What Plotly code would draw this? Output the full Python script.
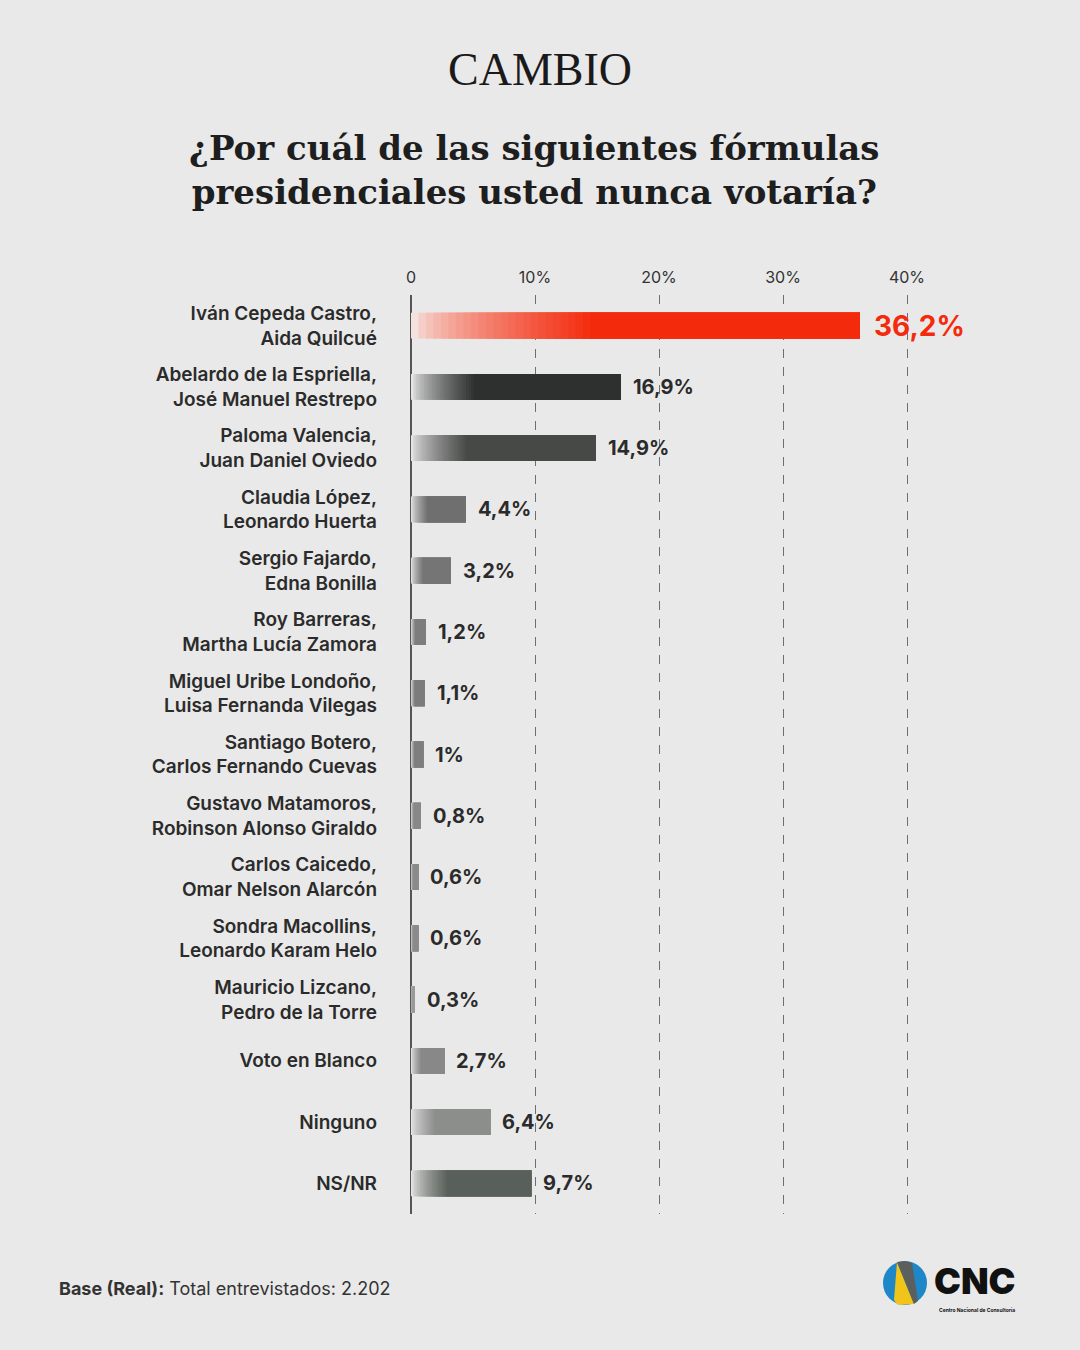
import plotly.graph_objects as go

# ---------------- data ----------------
categories = [
    "Iván Cepeda Castro,<br>Aida Quilcué",
    "Abelardo de la Espriella,<br>José Manuel Restrepo",
    "Paloma Valencia,<br>Juan Daniel Oviedo",
    "Claudia López,<br>Leonardo Huerta",
    "Sergio Fajardo,<br>Edna Bonilla",
    "Roy Barreras,<br>Martha Lucía Zamora",
    "Miguel Uribe Londoño,<br>Luisa Fernanda Vilegas",
    "Santiago Botero,<br>Carlos Fernando Cuevas",
    "Gustavo Matamoros,<br>Robinson Alonso Giraldo",
    "Carlos Caicedo,<br>Omar Nelson Alarcón",
    "Sondra Macollins,<br>Leonardo Karam Helo",
    "Mauricio Lizcano,<br>Pedro de la Torre",
    "Voto en Blanco",
    "Ninguno",
    "NS/NR",
]
values = [36.2, 16.9, 14.9, 4.4, 3.2, 1.2, 1.1, 1.0, 0.8, 0.6, 0.6, 0.3, 2.7, 6.4, 9.7]
bar_colors = ["#F42A0C", "#2D302F", "#474947", "#6F6F6F", "#757575", "#7D7D7D",
              "#7C7C7C", "#7E7E7E", "#888888", "#8A8A8A", "#8A8A8A", "#9A9A9A",
              "#888888", "#8C8E8C", "#596059"]
x_tickvals = [0, 10, 20, 30, 40]
x_ticktext = ["0", "10%", "20%", "30%", "40%"]

W, H = 1080, 1350
BG = "#E9E9E9"
FONT = "Inter"


def fmt(v):
    s = f"{v:.1f}".replace(".", ",")
    if s.endswith(",0"):
        s = s[:-2]
    return s + "%"


def hex2rgb(h):
    h = h.lstrip("#")
    return tuple(int(h[i:i + 2], 16) for i in (0, 2, 4))


def mix(c1, c2, t):
    a, b = hex2rgb(c1), hex2rgb(c2)
    return "rgb(%d,%d,%d)" % tuple(round(a[i] + (b[i] - a[i]) * t) for i in range(3))


fig = go.Figure()

# layered bars: each layer starts a little further right and is a little darker,
# giving a left-side gradient that ends in the solid bar colour
K = 24
start_cols = ["#F4E2DE" if i == 0 else "#E4E4E4" for i in range(len(values))]
grad_frac = [0.40 if i == 0 else 0.30 for i in range(len(values))]
for j in range(K + 1):
    bases, lens, cols = [], [], []
    for i, v in enumerate(values):
        b = v * grad_frac[i] * j / K
        bases.append(b)
        lens.append(v - b)
        t = (j / K) ** 0.7
        cols.append(mix(start_cols[i], bar_colors[i], t))
    fig.add_trace(go.Bar(
        y=categories, x=lens, base=bases, orientation="h",
        marker=dict(color=cols, line=dict(width=0)), width=0.42,
        hoverinfo="skip", showlegend=False))

# value labels
for i, v in enumerate(values):
    first = i == 0
    fig.add_annotation(
        x=v, y=categories[i], xref="x", yref="y", text=fmt(v), showarrow=False,
        xanchor="left", xshift=10 if not first else 12,
        font=dict(family=FONT, size=20 if not first else 28,
                  color="#F42A0C" if first else "#2B2B2B", weight="bold"))

# top texts
fig.add_annotation(x=540 / W, y=1 - 70 / H, xref="paper", yref="paper",
                   text="CAMBIO", showarrow=False, xanchor="center", yanchor="middle",
                   font=dict(family="Liberation Serif", size=46, color="#1A1A1A"))
fig.add_annotation(x=534 / W, y=1 - 170 / H, xref="paper", yref="paper",
                   text="¿Por cuál de las siguientes fórmulas<br>presidenciales usted nunca votaría?",
                   showarrow=False, xanchor="center", yanchor="middle", align="center",
                   font=dict(family="DejaVu Serif", size=34, color="#1E1E1E", weight="bold"))

# footer
fig.add_annotation(x=57 / W, y=1 - 1288 / H, xref="paper", yref="paper",
                   text="<b>Base (Real):</b> Total entrevistados: 2.202",
                   showarrow=False, xanchor="left", yanchor="middle",
                   font=dict(family=FONT, size=18, color="#333333"))

# CNC logo
def px(x, y):
    return x / W, 1 - y / H

cx, cy, r = 905, 1283, 22
x0, y1_ = px(cx - r, cy - r)
x1, y0_ = px(cx + r, cy + r)
fig.add_shape(type="circle", xref="paper", yref="paper", x0=x0, x1=x1, y0=y0_, y1=y1_,
              fillcolor="#1D87C7", line=dict(width=0))


def path(pts):
    return "M " + " L ".join("%f,%f" % px(*p) for p in pts) + " Z"


fig.add_shape(type="path", xref="paper", yref="paper",
              path=path([(897, 1262), (914, 1304), (898, 1305), (894, 1300)]),
              fillcolor="#F0C419", line=dict(width=0))
fig.add_shape(type="path", xref="paper", yref="paper",
              path=path([(897, 1262), (905, 1261), (912, 1263), (918, 1301), (914, 1304)]),
              fillcolor="#5B605E", line=dict(width=0))
fig.add_annotation(x=932 / W, y=1 - 1281 / H, xref="paper", yref="paper", text="CNC",
                   showarrow=False, xanchor="left", yanchor="middle",
                   font=dict(family="Inter", size=36, color="#111111", weight=900))
fig.add_annotation(x=937 / W, y=1 - 1310 / H, xref="paper", yref="paper",
                   text="Centro Nacional de Consultoría", showarrow=False,
                   xanchor="left", yanchor="middle",
                   font=dict(family="Inter", size=5, color="#111111", weight="bold"))

fig.update_layout(
    width=W, height=H, barmode="overlay",
    paper_bgcolor=BG, plot_bgcolor=BG,
    margin=dict(l=0, r=0, t=0, b=0, autoexpand=False),
    xaxis=dict(domain=[411 / W, 1031 / W], range=[0, 50], side="top",
               tickvals=x_tickvals, ticktext=x_ticktext,
               showgrid=True, gridcolor="#6E6E6E", gridwidth=1, griddash="dash",
               zeroline=True, zerolinecolor="#555555", zerolinewidth=2,
               showline=False, ticks="", ticklabelstandoff=8, automargin=False,
               tickfont=dict(family=FONT, size=16, color="#333333"),
               fixedrange=True),
    yaxis=dict(domain=[1 - 1214 / H, 1 - 295 / H], range=[14.5, -0.5],
               type="category", showgrid=False, zeroline=False, showline=False,
               ticks="", ticklabelstandoff=33, automargin=False,
               tickfont=dict(family=FONT, size=19, color="#2B2B2B", weight=600),
               fixedrange=True),
)

fig.write_html("out.html", config={"displayModeBar": False},
               post_script="document.body.style.margin='0';document.body.style.background='%s';" % BG)
